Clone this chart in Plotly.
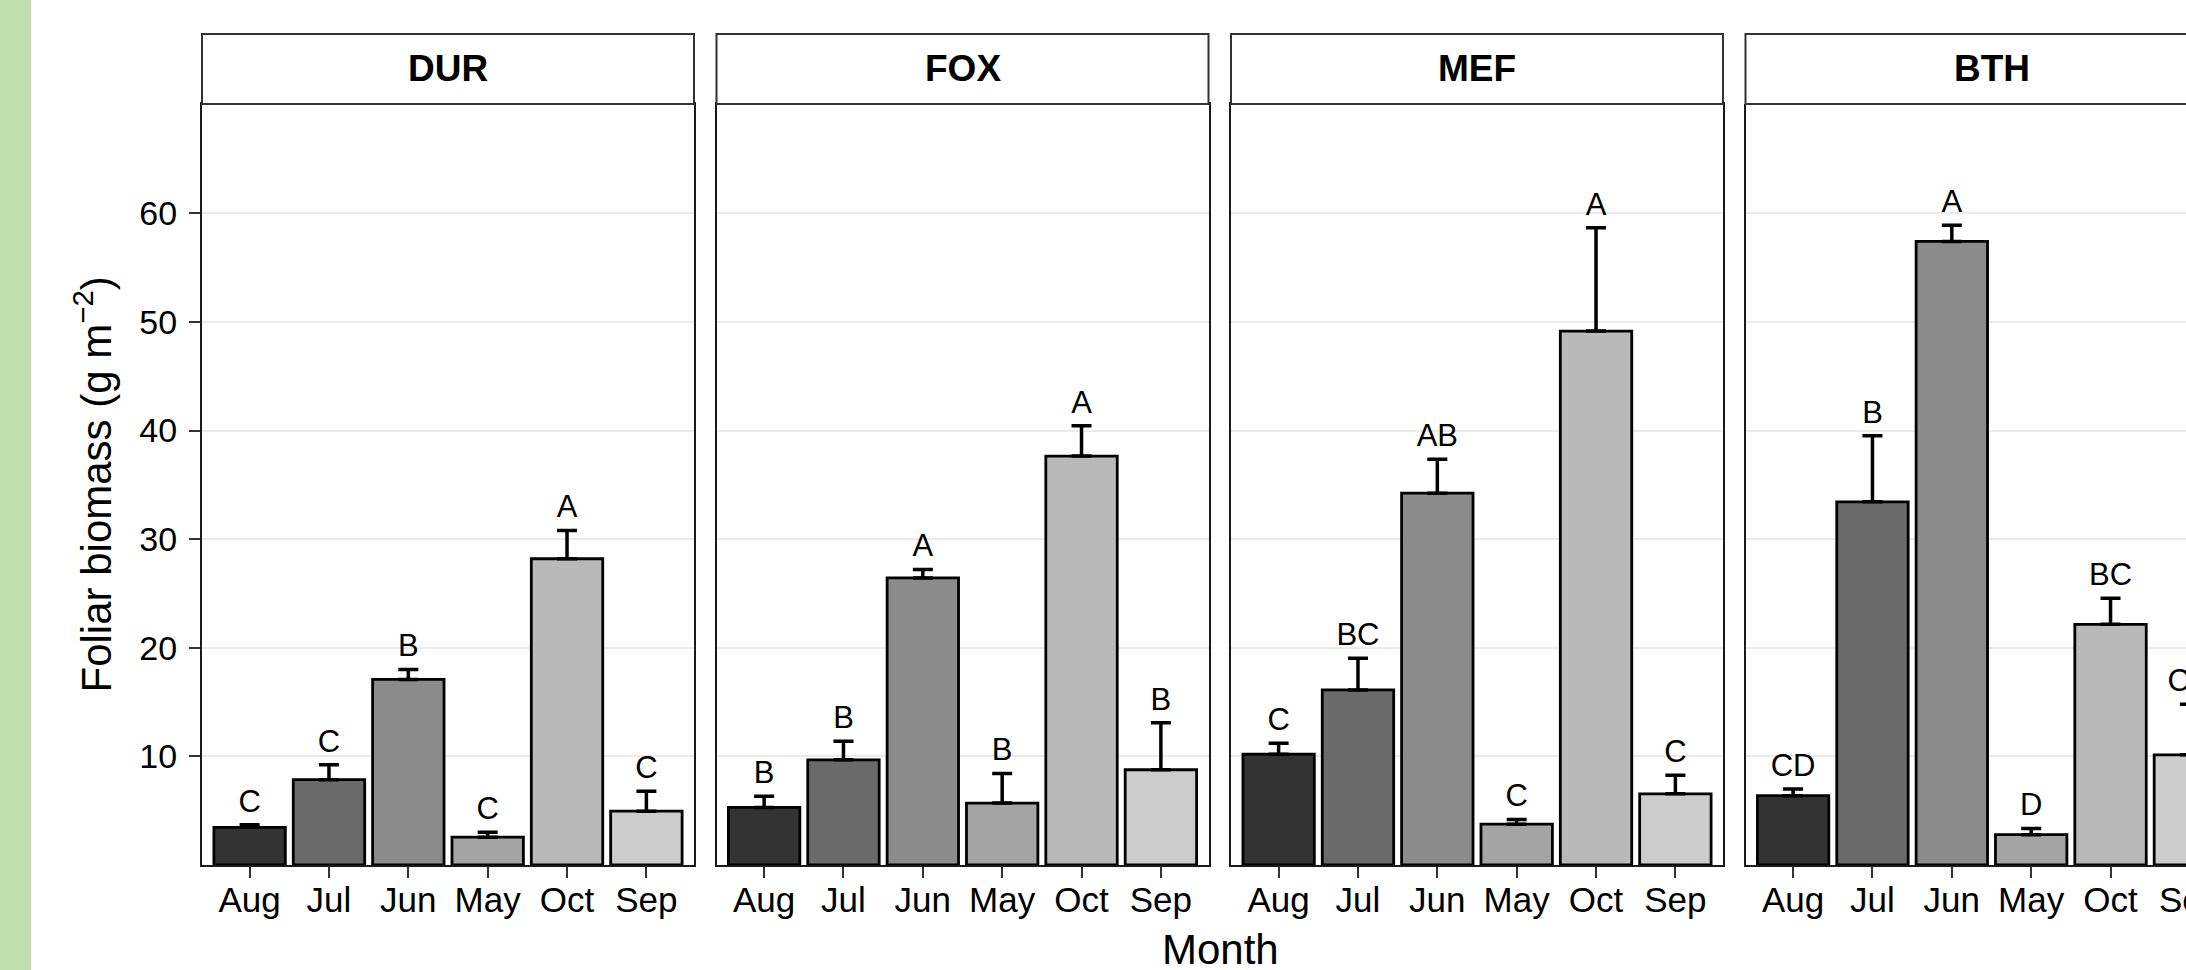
import plotly.graph_objects as go

# ---------------- data ----------------
months = ["Aug", "Jul", "Jun", "May", "Oct", "Sep"]
sites = ["DUR", "FOX", "MEF", "BTH"]

dur_mean = [3.47, 7.86, 17.09, 2.56, 28.20, 4.96]
dur_se = [0.23, 1.37, 0.91, 0.46, 2.60, 1.82]
dur_letters = ["C", "C", "B", "C", "A", "C"]

fox_mean = [5.30, 9.68, 26.43, 5.70, 37.65, 8.77]
fox_se = [1.02, 1.71, 0.77, 2.73, 2.79, 4.33]
fox_letters = ["B", "B", "A", "B", "A", "B"]

mef_mean = [10.20, 16.12, 34.24, 3.76, 49.16, 6.55]
mef_se = [1.02, 2.91, 3.13, 0.44, 9.51, 1.71]
mef_letters = ["C", "BC", "AB", "C", "A", "C"]

bth_mean = [6.38, 33.44, 57.42, 2.79, 22.16, 10.14]
bth_se = [0.62, 6.09, 1.48, 0.57, 2.39, 4.66]
bth_letters = ["CD", "B", "A", "D", "BC", "CD"]

y_ticks = [10, 20, 30, 40, 50, 60]

means = [dur_mean, fox_mean, mef_mean, bth_mean]
ses = [dur_se, fox_se, mef_se, bth_se]
letters = [dur_letters, fox_letters, mef_letters, bth_letters]

# ---------------- style ----------------
FONT = "Liberation Sans, Arial, sans-serif"
fills = ["#333333", "#6A6A6A", "#8B8B8B", "#A4A4A4", "#B9B9B9", "#CCCCCC"]
W, H = 2186, 970
panel_left = [202, 716.5, 1231, 1745.5]
panel_w = 492
panel_top, panel_bottom = 104, 865
strip_top = 34
y_dom = [1 - panel_bottom / H, 1 - panel_top / H]
y_range = [0, 70.07]
cat_px = panel_w / 6.2  # px per category step (ggplot discrete expansion 0.6)

fig = go.Figure()
layout = dict(
    width=W, height=H, autosize=False,
    margin=dict(l=0, r=0, t=0, b=0),
    paper_bgcolor="white", plot_bgcolor="white",
    showlegend=False, bargap=0.1,
    font=dict(family=FONT, color="black"),
)
shapes = [dict(type="rect", xref="paper", yref="paper", x0=0, x1=31 / W, y0=0, y1=1,
               fillcolor="#C1E0AD", line=dict(width=0), layer="below")]
annotations = []

for i, site in enumerate(sites):
    sx = "" if i == 0 else str(i + 1)
    xa, ya = "x" + sx, "y" + sx
    last = i == len(sites) - 1
    x0 = panel_left[i] / W
    x1 = min((panel_left[i] + panel_w) / W, 1.0)
    tops = [m + s for m, s in zip(means[i], ses[i])]

    fig.add_trace(go.Bar(
        x=months, y=means[i], width=0.9,
        marker=dict(color=fills, line=dict(color="black", width=2.8)),
        error_y=dict(type="data", array=ses[i], arrayminus=[0] * len(months),
                     symmetric=False, color="black", thickness=3.5, width=10),
        xaxis=xa, yaxis=ya, hoverinfo="skip",
    ))
    fig.add_trace(go.Scatter(
        x=months, y=[t + 0.5 for t in tops], mode="text", text=letters[i],
        textposition="top center", cliponaxis=True,
        textfont=dict(size=31, color="black", family=FONT),
        xaxis=xa, yaxis=ya, hoverinfo="skip",
    ))

    visible_units = (W - panel_left[i]) / cat_px if last else 6.2
    layout["xaxis" + sx] = dict(
        domain=[x0, x1], anchor=ya, type="category",
        categoryorder="array", categoryarray=months,
        range=[-0.6, -0.6 + visible_units],
        showline=True, linecolor="#1A1A1A", linewidth=2, mirror=(not last),
        ticks="outside", ticklen=11, tickwidth=2.2, tickcolor="#333333",
        ticklabelstandoff=-8,
        tickfont=dict(size=35, color="black", family=FONT),
        showgrid=False, zeroline=False, fixedrange=True,
    )
    layout["yaxis" + sx] = dict(
        domain=y_dom, anchor=xa, range=y_range,
        tickvals=y_ticks, showticklabels=(i == 0),
        ticks="outside" if i == 0 else "", ticklen=11, tickwidth=2.2, tickcolor="#333333",
        ticklabelstandoff=5,
        tickfont=dict(size=34, color="black", family=FONT),
        showgrid=True, gridcolor="#EBEBEB", gridwidth=2,
        showline=True, linecolor="#1A1A1A", linewidth=2, mirror=(not last),
        zeroline=False, fixedrange=True,
    )
    # strip
    shapes.append(dict(type="rect", xref="paper", yref="paper",
                       x0=x0, x1=(panel_left[i] + panel_w) / W,
                       y0=1 - panel_top / H, y1=1 - strip_top / H,
                       fillcolor="white", line=dict(color="#333333", width=2)))
    annotations.append(dict(xref="paper", yref="paper",
                            x=(panel_left[i] + panel_w / 2) / W,
                            y=1 - (strip_top + panel_top) / 2 / H,
                            text="<b>" + site + "</b>", showarrow=False,
                            xanchor="center", yanchor="middle",
                            font=dict(size=37, color="black", family=FONT)))

    if last:
        # tick labels of categories that fall past the cropped right edge of the page
        for k, m in enumerate(months):
            if k > -0.6 + visible_units:
                annotations.append(dict(
                    xref="paper", yref="paper",
                    x=(panel_left[i] + (k + 0.6) * cat_px) / W, y=1 - 899 / H,
                    text=m, showarrow=False, xanchor="center", yanchor="middle",
                    font=dict(size=35, color="black", family=FONT)))

annotations.append(dict(xref="paper", yref="paper", x=93 / W,
                        y=(y_dom[0] + y_dom[1]) / 2,
                        text="Foliar biomass (g m<sup>\u22122</sup>)", textangle=-90,
                        showarrow=False, xanchor="center", yanchor="middle",
                        font=dict(size=42, color="black", family=FONT)))
annotations.append(dict(xref="paper", yref="paper", x=1220 / W, y=1 - 949 / H,
                        text="Month", showarrow=False, xanchor="center", yanchor="middle",
                        font=dict(size=42, color="black", family=FONT)))

layout["shapes"] = shapes
layout["annotations"] = annotations
fig.update_layout(**layout)
fig.write_html(
    "out.html",
    config={"displayModeBar": False},
    post_script="document.body.style.margin='0';document.body.style.overflow='hidden';",
)
